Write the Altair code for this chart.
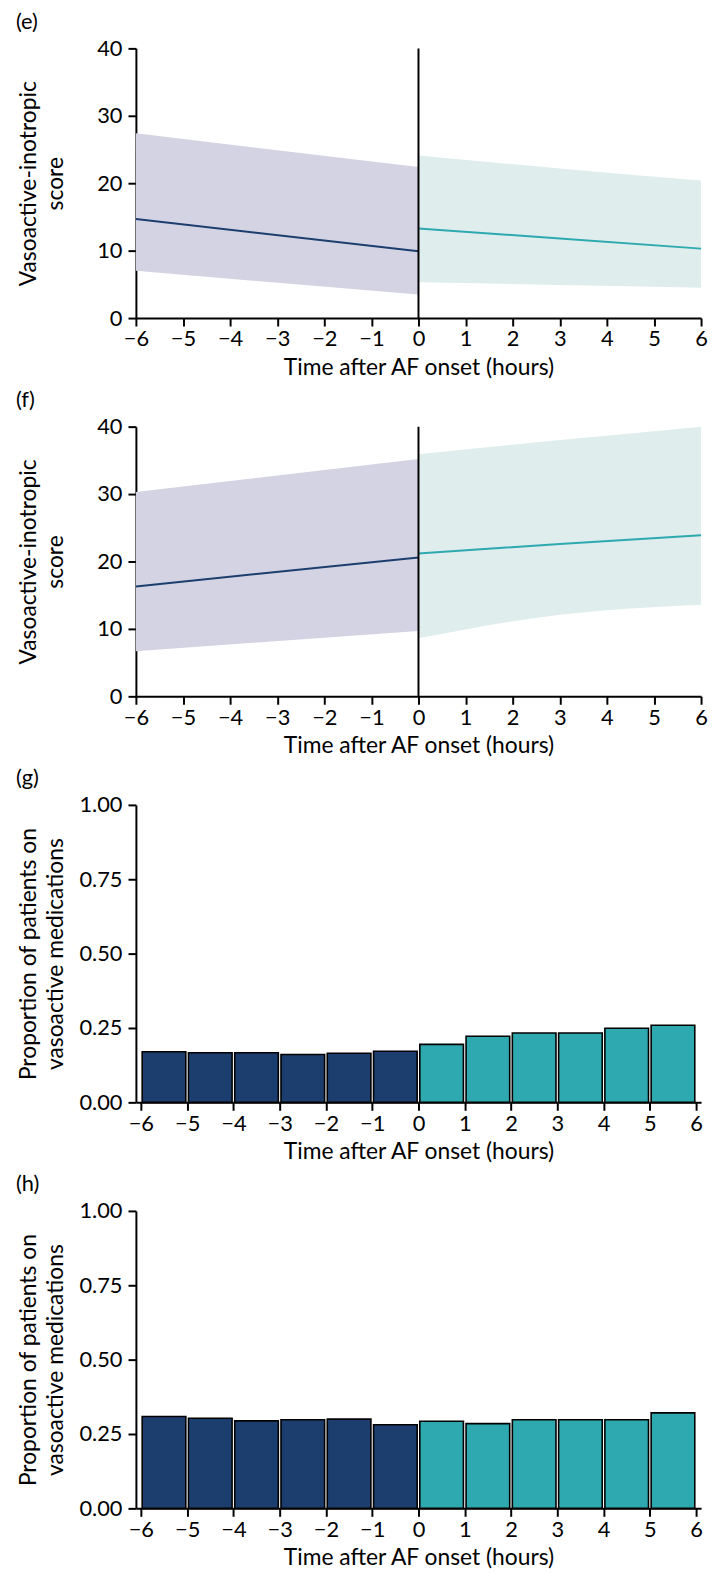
import altair as alt
import pandas as pd

# ---------------- data ----------------
hour_ticks = [-6, -5, -4, -3, -2, -1, 0, 1, 2, 3, 4, 5, 6]

# panel (e): modelled vasoactive-inotropic score
e_pre_t = [-6, 0]
e_pre_mean = [14.7, 9.9]
e_pre_lo = [7.0, 3.5]
e_pre_hi = [27.4, 22.4]
e_post_t = [0, 3, 6]
e_post_mean = [13.3, 11.8, 10.3]
e_post_lo = [5.3, 4.9, 4.5]
e_post_hi = [24.1, 22.2, 20.4]

# panel (f)
f_pre_t = [-6, 0]
f_pre_mean = [16.3, 20.6]
f_pre_lo = [6.7, 9.7]
f_pre_hi = [30.3, 35.2]
f_post_t = [0, 3, 6]
f_post_mean = [21.2, 22.6, 23.9]
f_post_lo = [8.6, 12.1, 13.6]
f_post_hi = [35.9, 38.0, 40.0]

# panels (g), (h): proportion on vasoactive medications per hour bin
bin_start = [-6, -5, -4, -3, -2, -1, 0, 1, 2, 3, 4, 5]
g_prop = [0.170, 0.167, 0.167, 0.161, 0.165, 0.172, 0.195, 0.222, 0.233, 0.233, 0.249, 0.259]
h_prop = [0.309, 0.303, 0.294, 0.298, 0.300, 0.281, 0.293, 0.285, 0.298, 0.298, 0.298, 0.321]

# ---------------- styles ----------------
NAVY = "#1c3e6e"
TEAL = "#2ea9b0"
BAND_PRE = "#d3d3e3"
BAND_POST = "#dfeded"
FONT = "Lato"
W = 570

x_title = "Time after AF onset (hours)"


def x_enc(field):
    return alt.X(
        field,
        type="quantitative",
        scale=alt.Scale(domain=[-6, 6], nice=False, zero=False),
        axis=alt.Axis(values=hour_ticks, title=x_title, format="d"),
    )


def panel_title(label):
    return alt.TitleParams(label, anchor="start", frame="bounds", fontSize=22, font=FONT,
                           fontWeight="normal", color="black", offset=4, dx=-2)


def line_panel(label, pre, post):
    rows = []
    for period, (ts, ms, los, his) in (("pre", pre), ("post", post)):
        for t, m, lo, hi in zip(ts, ms, los, his):
            rows.append({"t": t, "mean": m, "lo": lo, "hi": hi, "period": period})
    df = pd.DataFrame(rows)
    yscale = alt.Scale(domain=[0, 40], nice=False)
    base = alt.Chart(df)
    area = base.mark_area(opacity=1, interpolate="monotone").encode(
        x=x_enc("t"),
        y=alt.Y(
            "lo:Q",
            scale=yscale,
            axis=alt.Axis(values=[0, 10, 20, 30, 40], title=["Vasoactive-inotropic", "score"],
                          titlePadding=29.5),
        ),
        y2="hi:Q",
        fill=alt.Fill("period:N", scale=alt.Scale(domain=["pre", "post"], range=[BAND_PRE, BAND_POST]), legend=None),
    )
    line = base.mark_line(strokeWidth=2).encode(
        x=x_enc("t"),
        y=alt.Y("mean:Q", scale=yscale),
        stroke=alt.Stroke("period:N", scale=alt.Scale(domain=["pre", "post"], range=[NAVY, TEAL]), legend=None),
    )
    rule = alt.Chart(pd.DataFrame({"t": [0]})).mark_rule(color="black", strokeWidth=2).encode(x="t:Q")
    return alt.layer(area, line, rule).properties(width=W, height=272, title=panel_title(label))


def bar_panel(label, props):
    df = pd.DataFrame({
        "start": bin_start,
        "prop": props,
        "period": ["pre" if s < 0 else "post" for s in bin_start],
    })
    return alt.Chart(df).transform_calculate(mid="datum.start + 0.5").mark_bar(
        size=44, stroke="black", strokeWidth=1.6
    ).encode(
        x=x_enc("mid"),
        y=alt.Y(
            "prop:Q",
            scale=alt.Scale(domain=[0, 1], nice=False),
            axis=alt.Axis(values=[0, 0.25, 0.5, 0.75, 1], format=".2f",
                          title=["Proportion of patients on", "vasoactive medications"],
                          titlePadding=11.5),
        ),
        fill=alt.Fill("period:N", scale=alt.Scale(domain=["pre", "post"], range=[NAVY, TEAL]), legend=None),
    ).properties(width=W, height=300, title=panel_title(label))


e = line_panel("(e)", (e_pre_t, e_pre_mean, e_pre_lo, e_pre_hi), (e_post_t, e_post_mean, e_post_lo, e_post_hi))
f = line_panel("(f)", (f_pre_t, f_pre_mean, f_pre_lo, f_pre_hi), (f_post_t, f_post_mean, f_post_lo, f_post_hi))
g = bar_panel("(g)", g_prop)
h = bar_panel("(h)", h_prop)

chart = alt.VConcatChart(vconcat=[e, f, g, h], spacing=109.5, bounds="flush").resolve_scale(
    fill="independent", stroke="independent"
).configure(
    padding={"left": 7, "top": -4, "right": 0, "bottom": 0},
    background="white",
).configure_view(stroke=None).configure_axis(
    grid=False,
    domainColor="black",
    domainWidth=2,
    tickColor="black",
    tickWidth=2,
    tickSize=8,
    labelColor="black",
    labelFont=FONT,
    labelFontSize=22,
    titleColor="black",
    titleFont=FONT,
    titleFontSize=23,
    titleFontWeight="normal",
    titleLineHeight=27,
).configure_axisX(
    labelPadding=3,
    titlePadding=7,
    labelFlush=False,
).configure_axisY(
    labelPadding=6,
)

chart.save("out.html", embed_options={"renderer": "svg", "actions": False})
